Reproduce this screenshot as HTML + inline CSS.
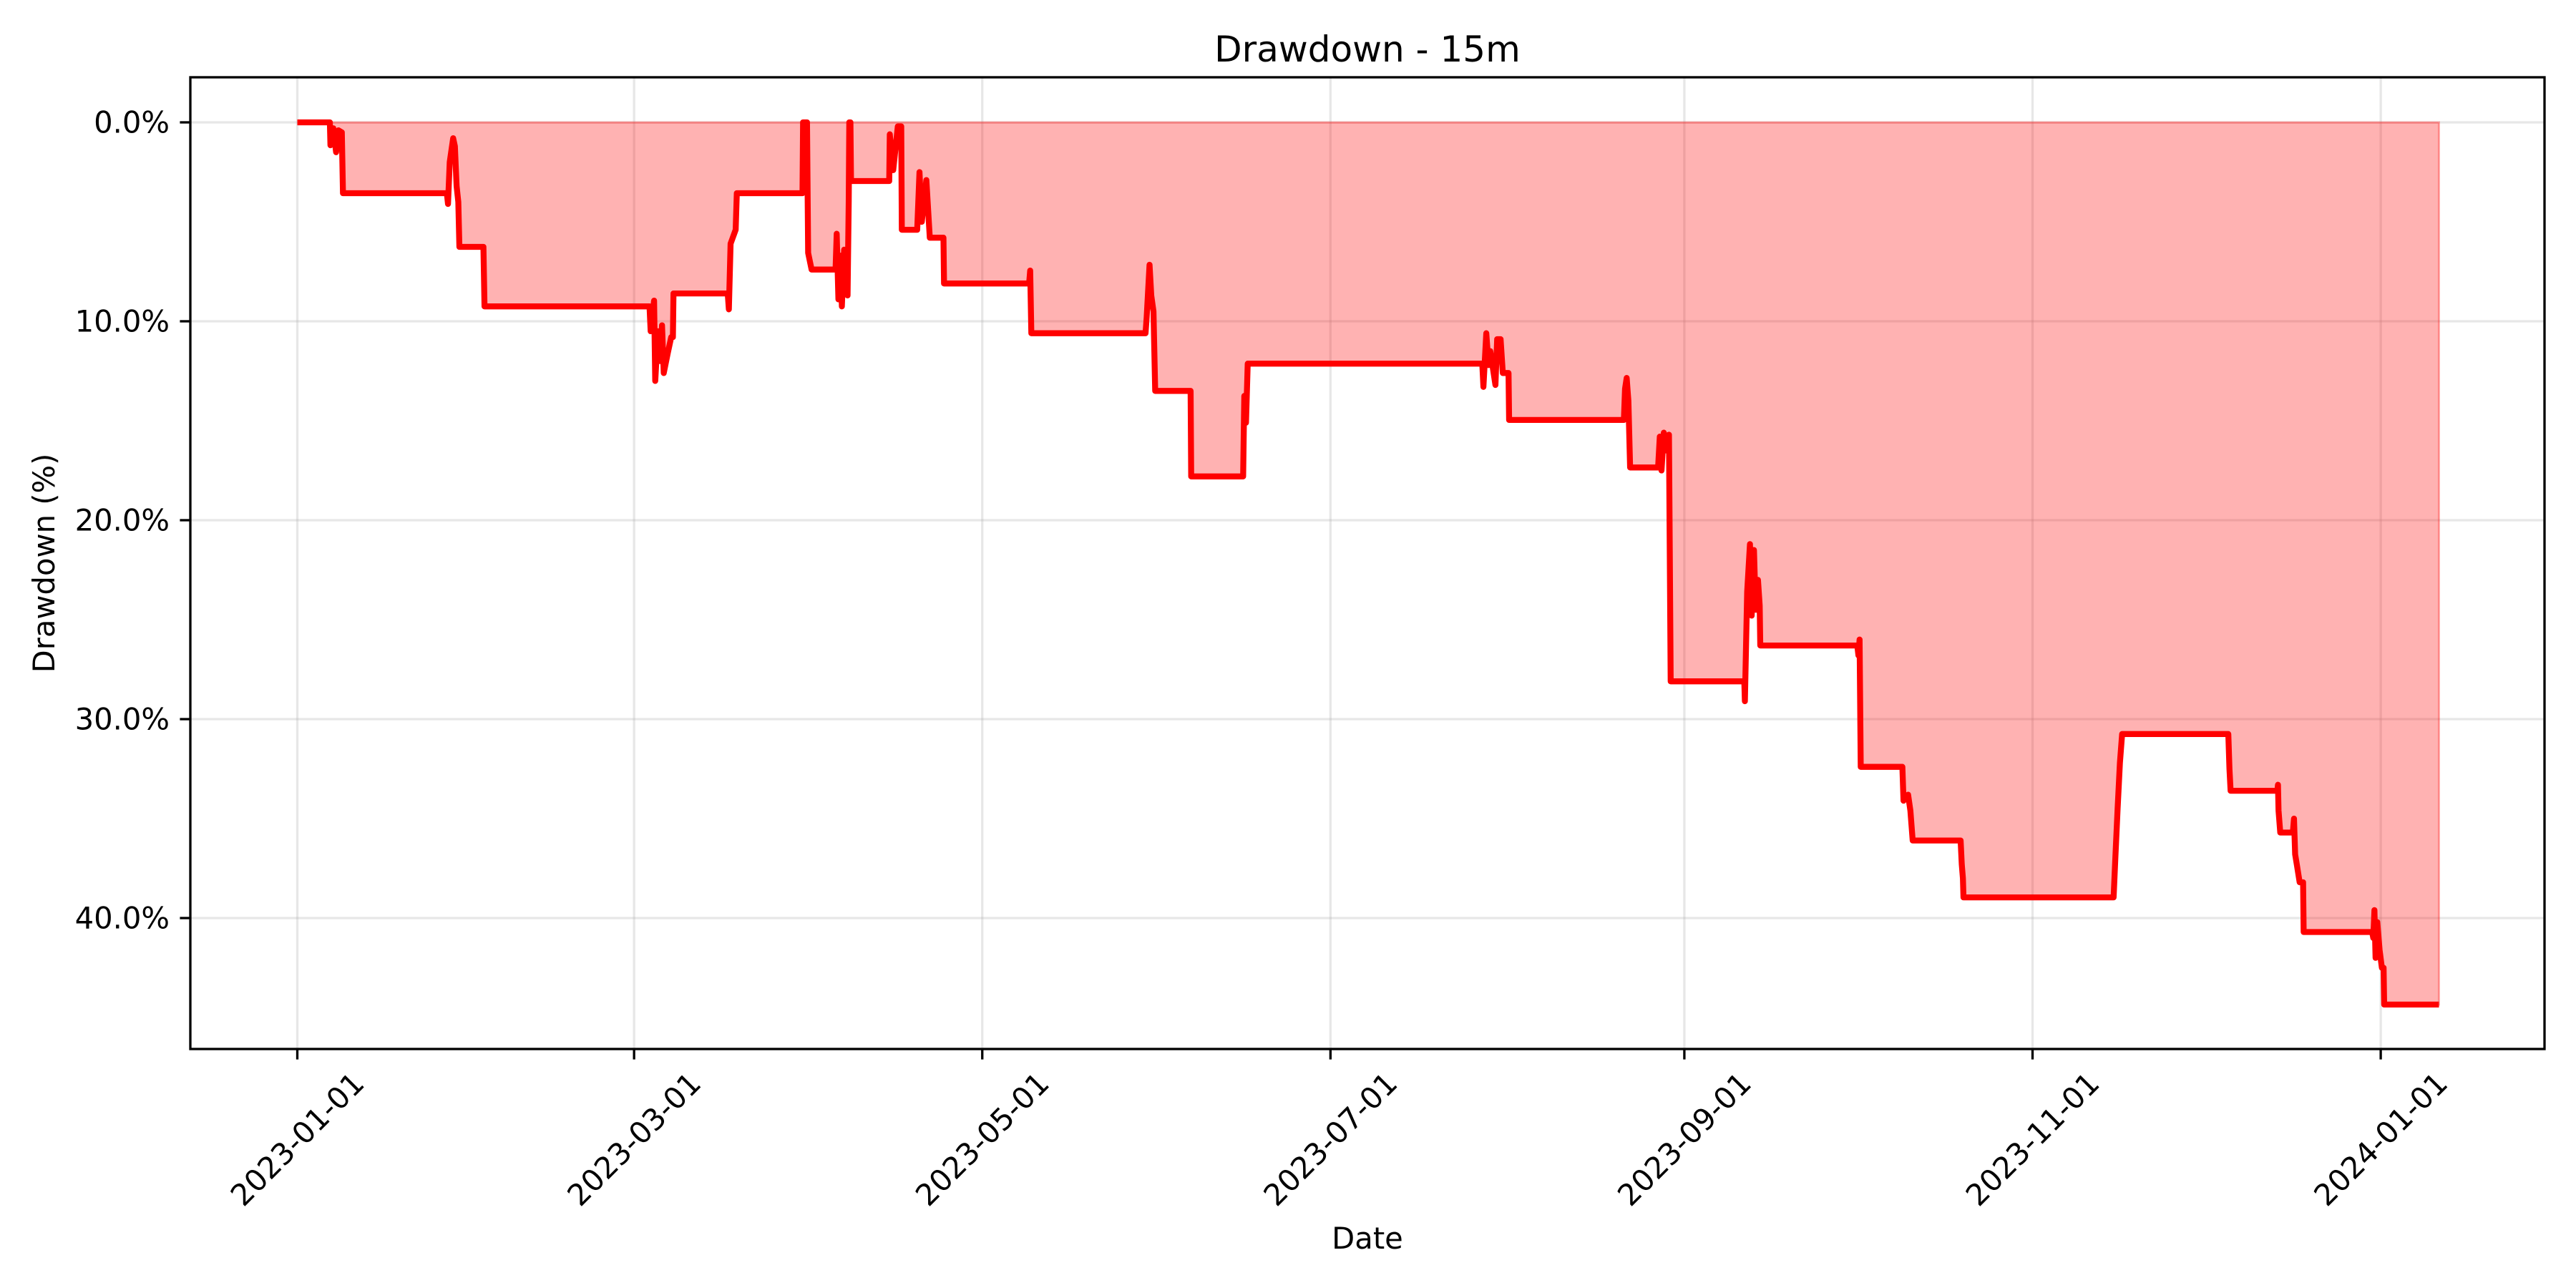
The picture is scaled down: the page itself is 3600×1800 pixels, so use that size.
<!DOCTYPE html>
<html><head><meta charset="utf-8"><style>
html,body{margin:0;padding:0;background:#fff;}
svg{display:block;font-family:"DejaVu Sans","Liberation Sans",sans-serif;}
</style></head><body>
<svg id="chart" width="3600" height="1800" viewBox="0 0 3600 1800" xmlns="http://www.w3.org/2000/svg">
<rect width="3600" height="1800" fill="#fff"/>
<text x="1911" y="86" font-size="50" text-anchor="middle" fill="#000">Drawdown - 15m</text>
<g id="grid"></g>
<g id="series"></g>
<rect x="266" y="108" width="3290" height="1358" fill="none" stroke="#000" stroke-width="3.3"/>
<g id="axes"></g>
<text x="1911" y="1745" font-size="41.7" text-anchor="middle" fill="#000">Date</text>
<text transform="translate(76,787) rotate(-90)" font-size="41.7" text-anchor="middle" fill="#000">Drawdown (%)</text>
</svg>
<script>
const days = [0,5.7,5.8,6.3,6.8,7.2,7.8,8.0,26.2,26.4,26.7,27.3,27.6,27.9,28.2,28.4,32.6,32.8,61.7,61.9,62.5,62.7,63.2,63.6,63.9,64.2,64.9,65.5,65.8,65.9,75.4,75.6,75.9,76.8,77.0,88.5,88.6,89.3,89.5,90.1,94.3,94.5,94.8,95.2,95.4,95.8,96.2,96.4,96.6,96.7,96.9,97.0,103.7,103.8,104.4,105.2,105.8,105.9,108.6,109.0,109.4,110.2,110.8,113.2,113.3,128.2,128.4,128.6,148.6,148.8,149.3,149.6,150.0,150.3,156.5,156.6,165.7,165.9,166.2,166.5,207.6,207.8,208.3,208.7,209.0,209.9,210.2,210.8,211.2,212.2,212.3,232.4,232.6,232.9,233.2,233.5,238.4,238.7,239.0,239.4,239.9,240.3,240.6,253.5,253.6,254.0,254.5,254.8,255.2,255.5,255.9,256.2,256.3,273.3,273.5,273.7,273.9,281.2,281.4,282.2,282.6,283.0,291.4,291.6,291.8,291.9,318.2,318.5,318.9,319.3,319.7,338.3,338.5,338.7,346.9,347.0,347.1,347.4,349.6,349.8,350.0,350.3,350.8,351.4,351.5,363.5,363.7,363.9,364.1,364.4,364.8,365.2,365.5,365.6,375.2];
const drawdown = [0,0,1.15,0.3,1.5,0.4,0.5,3.56,3.56,4.1,2.0,0.8,1.2,3.2,4.0,6.26,6.26,9.25,9.25,10.5,8.96,13.0,10.5,12.0,10.2,12.6,11.6,10.8,10.8,8.6,8.6,9.4,6.1,5.4,3.56,3.56,0,0,6.56,7.4,7.4,5.6,8.9,6.7,9.25,6.4,7.8,8.7,4.0,0,0,2.95,2.95,0.6,2.4,0.2,0.2,5.4,5.4,2.5,5.0,2.9,5.8,5.8,8.1,8.1,7.45,10.6,10.6,9.8,7.16,8.7,9.5,13.5,13.5,17.8,17.8,13.75,15.1,12.13,12.13,13.3,10.6,12.2,11.5,13.2,10.9,10.9,12.6,12.6,14.96,14.96,13.4,12.85,14.0,17.35,17.35,15.8,17.5,15.6,16.5,15.7,28.1,28.1,29.1,23.6,21.2,24.8,21.5,24.5,23.0,24.3,26.3,26.3,26.8,26.0,32.4,32.4,34.1,33.8,34.6,36.1,36.1,37.3,38.0,38.96,38.96,37.0,34.5,32.2,30.75,30.75,32.5,33.6,33.6,33.3,34.6,35.7,35.7,35.0,36.8,37.3,38.2,38.2,40.7,40.7,41.0,39.6,42.0,40.2,41.6,42.5,42.5,44.35,44.35];
const xTickDays = [0,59,120,181,243,304,365];
const xTickLabels = ["2023-01-01","2023-03-01","2023-05-01","2023-07-01","2023-09-01","2023-11-01","2024-01-01"];
const yTicks = [0,10,20,30,40];
const yTickLabels = ["0.0%","10.0%","20.0%","30.0%","40.0%"];

const NS = "http://www.w3.org/2000/svg";
const X0 = 415.5, PXD = 7.977, Y0 = 171, PXP = 27.8;
const AX_L = 266, AX_R = 3556, AX_T = 108, AX_B = 1466;
function xs(d){ return X0 + d*PXD; }
function ys(p){ return Y0 + p*PXP; }
function mk(tag, attrs){ const e = document.createElementNS(NS, tag); for (const k in attrs) e.setAttribute(k, attrs[k]); return e; }

const grid = document.getElementById('grid');
const axes = document.getElementById('axes');
const series = document.getElementById('series');

xTickDays.forEach((d, i) => {
  const x = xs(d);
  const gl = mk('line', {x1:x, x2:x, y1:AX_T, y2:AX_B, stroke:'#b0b0b0', 'stroke-opacity':0.3, 'stroke-width':3.3});
  
  
  grid.appendChild(gl);
  const tk = mk('line', {x1:x, x2:x, y1:AX_B, y2:AX_B+14.6, stroke:'#000', 'stroke-width':3.3});
  
  
  axes.appendChild(tk);
  const t = mk('text', {transform:`translate(${x},1592) rotate(-45)`, 'font-size':41.7, 'text-anchor':'middle', 'dominant-baseline':'central', fill:'#000'});
  t.textContent = xTickLabels[i];
  
  
  axes.appendChild(t);
});
yTicks.forEach((p, i) => {
  const y = ys(p);
  const gl = mk('line', {x1:AX_L, x2:AX_R, y1:y, y2:y, stroke:'#b0b0b0', 'stroke-opacity':0.3, 'stroke-width':3.3});
  
  
  grid.appendChild(gl);
  const tk = mk('line', {x1:AX_L-14.6, x2:AX_L, y1:y, y2:y, stroke:'#000', 'stroke-width':3.3});
  
  
  axes.appendChild(tk);
  const t = mk('text', {x:AX_L-29, y:y, 'font-size':41.7, 'text-anchor':'end', 'dominant-baseline':'central', fill:'#000'});
  t.textContent = yTickLabels[i];
  
  
  axes.appendChild(t);
});

let pts = days.map((d, i) => xs(d).toFixed(1) + ',' + ys(drawdown[i]).toFixed(1));
const areaPts = xs(days[0]).toFixed(1) + ',' + ys(0) + ' ' + pts.join(' ') + ' ' + xs(days[days.length-1]).toFixed(1) + ',' + ys(0);
const area = mk('polygon', {points: areaPts, fill:'#ff0000', 'fill-opacity':0.3, stroke:'#ff0000', 'stroke-opacity':0.3, 'stroke-width':3});


series.appendChild(area);
const line = mk('polyline', {points: pts.join(' '), fill:'none', stroke:'#ff0000', 'stroke-width':8.3, 'stroke-linejoin':'round'});


series.appendChild(line);
</script>
</body></html>
